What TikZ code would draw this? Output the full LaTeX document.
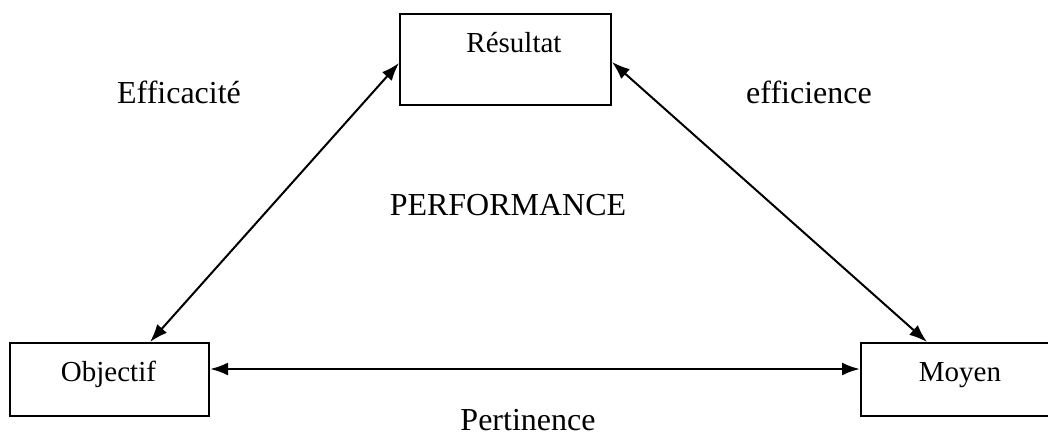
\documentclass[tikz,border=0pt]{standalone}
\usepackage{fontspec}
\setmainfont{Liberation Serif}
\usetikzlibrary{arrows.meta}
\begin{document}
\begin{tikzpicture}[x=1pt,y=1pt,
  boxnode/.style={draw,line width=2pt,inner sep=0pt,minimum width=#1,minimum height=73pt},
  boxtext/.style={font=\fontsize{29}{34}\selectfont,anchor=base,inner sep=0pt},
  bigtext/.style={font=\fontsize{32}{38}\selectfont,anchor=base,inner sep=0pt},
  link/.style={line width=2pt,{Latex[length=18pt,width=13pt]}-{Latex[length=18pt,width=13pt]}}]
\useasboundingbox (0,0) rectangle (1048,437);
\clip (0,0) rectangle (1048,437);
\node[boxnode=211pt,minimum height=91pt] (res) at (505.5,377.5) {};
\node[boxtext] (restext) at (514,384) {Résultat};
\node[boxnode=199pt] (obj) at (109.5,57.5) {};
\node[boxtext] (objtext) at (108.5,56) {Objectif};
\node[boxnode=194pt] (moy) at (958,57.5) {};
\node[boxtext] (moytext) at (960,56) {Moyen};
\node[bigtext] (eff) at (179,333) {Efficacité};
\node[bigtext] (effi) at (809,333) {efficience};
\node[bigtext] (perf) at (508,222) {PERFORMANCE};
\node[bigtext] (pert) at (528,7) {Pertinence};
\draw[link] ([yshift=-3.5pt]res.west) -- ([xshift=40.5pt]obj.north);
\draw[link] ([yshift=-2.5pt]res.east) -- ([xshift=-31pt]moy.north);
\draw[link,line width=2.6pt] ([yshift=10.5pt]obj.east) -- ([yshift=10.5pt]moy.west);
\end{tikzpicture}
\end{document}
